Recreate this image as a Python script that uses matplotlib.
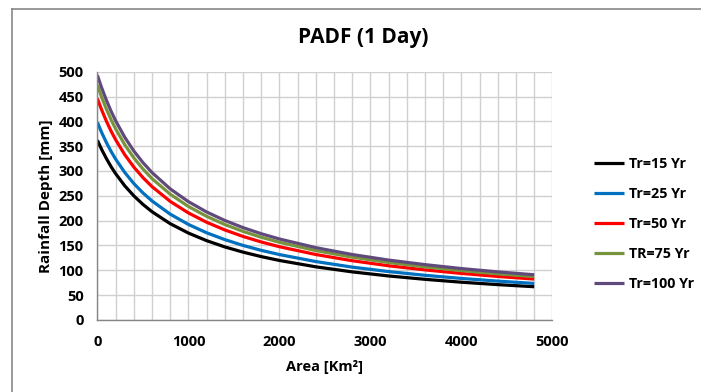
import matplotlib.pyplot as plt
from matplotlib.lines import Line2D
from matplotlib.ticker import MultipleLocator

plt.rcParams['font.family'] = ['Open Sans', 'DejaVu Sans']
plt.rcParams['font.weight'] = 'bold'

area = [0, 25, 50, 100, 150, 200, 300, 400, 500, 600, 800, 1000, 1200, 1400,
        1600, 1800, 2000, 2400, 2800, 3200, 3600, 4000, 4400, 4800]

tr15 = [362, 351.7, 342.1, 324.5, 308.7, 294.6, 270.2, 249.9, 232.7, 217.9, 193.8, 174.9,
        159.6, 147.0, 136.5, 127.5, 119.7, 106.9, 96.7, 88.5, 81.7, 75.9, 71.0, 66.8]
tr25 = [398, 386.7, 376.1, 356.7, 339.4, 323.9, 297.1, 274.7, 255.8, 239.6, 213.0, 192.3,
        175.5, 161.7, 150.0, 140.1, 131.6, 117.5, 106.3, 97.3, 89.8, 83.5, 78.1, 73.4]
tr50 = [446, 433.3, 421.5, 399.7, 380.3, 363.0, 332.9, 307.9, 286.7, 268.5, 238.7, 215.5,
        196.7, 181.2, 168.1, 157.0, 147.4, 131.7, 119.2, 109.0, 100.7, 93.6, 87.5, 82.2]
tr75 = [473, 459.6, 447.0, 423.9, 403.4, 384.9, 353.0, 326.5, 304.0, 284.7, 253.2, 228.5,
        208.6, 192.1, 178.3, 166.5, 156.4, 139.6, 126.4, 115.6, 106.8, 99.2, 92.8, 87.2]
tr100 = [493, 479.0, 465.9, 441.9, 420.4, 401.2, 368.0, 340.3, 316.9, 296.8, 263.9, 238.2,
         217.4, 200.3, 185.9, 173.6, 163.0, 145.5, 131.7, 120.5, 111.3, 103.4, 96.7, 90.9]

labels = ['Tr=15 Yr', 'Tr=25 Yr', 'Tr=50 Yr', 'TR=75 Yr', 'Tr=100 Yr']
colors = ['#000000', '#0070C0', '#FF0000', '#77933C', '#604A7B']

fig = plt.figure(figsize=(7.01, 3.92), dpi=100)
ax = fig.add_axes([0.139, 0.184, 0.649, 0.633])

for ys, lab, col in zip([tr15, tr25, tr50, tr75, tr100], labels, colors):
    ax.plot(area, ys, color=col, lw=2.3, label=lab, solid_capstyle='butt')

ax.set_xlim(0, 5000)
ax.set_ylim(0, 500)
ax.xaxis.set_major_locator(MultipleLocator(1000))
ax.xaxis.set_minor_locator(MultipleLocator(200))
ax.yaxis.set_major_locator(MultipleLocator(50))
ax.grid(which='both', color='#d0d0d0', lw=1.0)
ax.set_axisbelow(True)
ax.tick_params(which='both', length=0, labelsize=10.5)
ax.tick_params(axis='x', pad=11)
ax.tick_params(axis='y', pad=10)
for s in ['top', 'right']:
    ax.spines[s].set_visible(False)
for s in ['left', 'bottom']:
    ax.spines[s].set_color('#868686')
    ax.spines[s].set_linewidth(1.0)

ax.set_xlabel('Area [Km²]', fontsize=10.5, fontweight='bold', labelpad=8)
ax.set_ylabel('Rainfall Depth [mm]', fontsize=11, fontweight='bold', labelpad=4)
fig.text(0.518, 0.905, 'PADF (1 Day)', ha='center', va='center', fontsize=15, fontweight='bold')

leg = ax.legend(loc='center left', bbox_to_anchor=(1.035, 0.385), frameon=False,
                fontsize=10.3, handlelength=2.1, labelspacing=1.12, handletextpad=0.35,
                borderaxespad=1.4)

# chart area border (top and left only visible)
fig.add_artist(Line2D([0.0175, 1.0], [1 - 8.5 / 392, 1 - 8.5 / 392], color='#888888', lw=1.2))
fig.add_artist(Line2D([0.0175, 0.0175], [0.0, 1 - 8.5 / 392], color='#888888', lw=1.2))

fig.savefig('out.png', dpi=100)
